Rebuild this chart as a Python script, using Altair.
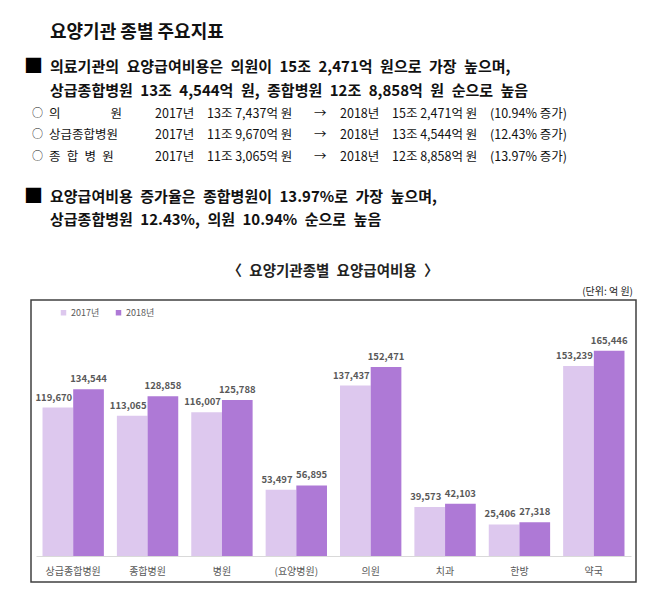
import altair as alt
import pandas as pd

# ---------------- data ----------------
categories = ["상급종합병원", "종합병원", "병원", "(요양병원)", "의원", "치과", "한방", "약국"]
values_2017 = [119670, 113065, 116007, 53497, 137437, 39573, 25406, 153239]
values_2018 = [134544, 128858, 125788, 56895, 152471, 42103, 27318, 165446]
years = ["2017년", "2018년"]

page_title = "요양기관 종별 주요지표"
bullet1 = ["의료기관의 요양급여비용은 의원이 15조 2,471억 원으로 가장 높으며,",
           "상급종합병원 13조 4,544억 원, 종합병원 12조 8,858억 원 순으로 높음"]
row_labels = ["의\u3000\u3000\u3000\u3000원", "상급종합병원", "종\u2002합\u2002병\u2002원"]
row_2017 = ["13조 7,437억 원", "11조 9,670억 원", "11조 3,065억 원"]
row_2018 = ["15조 2,471억 원", "13조 4,544억 원", "12조 8,858억 원"]
row_pct = ["(10.94% 증가)", "(12.43% 증가)", "(13.97% 증가)"]
bullet2 = ["요양급여비용 증가율은 종합병원이 13.97%로 가장 높으며,",
           "상급종합병원 12.43%, 의원 10.94% 순으로 높음"]
chart_title = "〈 요양기관종별 요양급여비용 〉"
unit_text = "(단위: 억 원)"

KR = "Noto Sans CJK KR"
C17 = "#DDC8EE"
C18 = "#AE79D6"

# plot origin (padding)
PX, PY = 36, 308
W, H = 595, 248

df = pd.DataFrame({
    "category": categories * 2,
    "year": [years[0]] * len(categories) + [years[1]] * len(categories),
    "value": values_2017 + values_2018,
})


def wide(s):
    return s.replace(" ", "\u2002")


def txt(text, x, y, size, weight="normal", align="left", color="#111111"):
    return alt.Chart(pd.DataFrame({"t": [text]})).mark_text(
        align=align, baseline="middle", fontSize=size, fontWeight=weight,
        font=KR, color=color
    ).encode(x=alt.value(x - PX), y=alt.value(y - PY), text="t:N")


def square(x, y, size):
    return alt.Chart(pd.DataFrame({"t": ["■"]})).mark_text(
        align="left", baseline="middle", fontSize=size, font=KR, color="#000000"
    ).encode(x=alt.value(x - PX), y=alt.value(y - PY), text="t:N")


xenc = alt.X("category:N", sort=categories,
             scale=alt.Scale(paddingInner=0.175, paddingOuter=0.0875),
             axis=alt.Axis(title=None, labelAngle=0, labelFontSize=10, labelFont=KR,
                           labelColor="#595959", domainColor="#d9d9d9", domainWidth=1,
                           ticks=False, labelPadding=10, grid=False))
yenc = alt.Y("value:Q", scale=alt.Scale(domain=[0, 200000]), axis=None)
offenc = alt.XOffset("year:N", sort=years, scale=alt.Scale(paddingInner=0))

bars = alt.Chart(df).mark_bar().encode(
    x=xenc, xOffset=offenc, y=yenc,
    color=alt.Color("year:N", sort=years,
                    scale=alt.Scale(domain=years, range=[C17, C18]),
                    legend=alt.Legend(title=None, orient="none", legendX=23, legendY=0,
                                      direction="horizontal", symbolType="square",
                                      symbolSize=30, symbolStrokeWidth=0,
                                      labelFontSize=9, labelFont=KR,
                                      labelColor="#595959", columnPadding=14,
                                      labelOffset=3, padding=0)),
)

lab17 = alt.Chart(df).transform_filter(alt.datum.year == years[0]).mark_text(
    baseline="middle", dy=-10, dx=-4, fontSize=9.5, fontWeight="bold", font=KR, color="#595959"
).encode(x=xenc, xOffset=offenc, y=yenc, text=alt.Text("value:Q", format=","))

lab18 = alt.Chart(df).transform_filter(alt.datum.year == years[1]).mark_text(
    baseline="middle", dy=-10, fontSize=9.5, fontWeight="bold", font=KR, color="#595959"
).encode(x=xenc, xOffset=offenc, y=yenc, text=alt.Text("value:Q", format=","))

box = alt.Chart(pd.DataFrame({"a": [0]})).mark_rect(
    fill=None, stroke="#404040", strokeWidth=1.5
).encode(x=alt.value(31 - PX), x2=alt.value(636 - PX),
         y=alt.value(300 - PY), y2=alt.value(582 - PY))

layers = [box, bars, lab17, lab18]

# header texts
layers.append(txt(page_title, 50, 33, 18, weight="bold"))
layers.append(square(24, 67, 19))
layers.append(txt(wide(bullet1[0]), 50, 67, 15, weight="bold"))
layers.append(txt(wide(bullet1[1]), 50, 91, 15, weight="bold"))

row_y = [114, 135, 157]
for i in range(3):
    y = row_y[i]
    layers.append(txt("○", 32, y, 11))
    layers.append(txt(row_labels[i], 49, y, 12.5))
    layers.append(txt("2017년", 155, y, 12.5))
    layers.append(txt(row_2017[i], 207, y, 12.5))
    layers.append(txt("→", 314, y, 12.5))
    layers.append(txt("2018년", 340, y, 12.5))
    layers.append(txt(row_2018[i], 392, y, 12.5))
    layers.append(txt(row_pct[i], 490, y, 12.5))

layers.append(square(24, 197, 19))
layers.append(txt(wide(bullet2[0]), 50, 197, 15, weight="bold"))
layers.append(txt(wide(bullet2[1]), 50, 220, 15, weight="bold"))

layers.append(txt(wide(chart_title), 333, 272, 14.5, weight="bold", align="center", color="#222222"))
layers.append(txt(unit_text, 633, 292, 10, align="right", color="#222222"))

chart = alt.layer(*layers).properties(
    width=W, height=H,
    padding={"left": PX, "top": PY, "right": 650 - PX - W, "bottom": 592 - PY - H},
    autosize=alt.AutoSizeParams(type="none"),
    background="white",
).configure_view(stroke=None)

chart.save("out.html", embed_options={"renderer": "svg", "actions": False})
